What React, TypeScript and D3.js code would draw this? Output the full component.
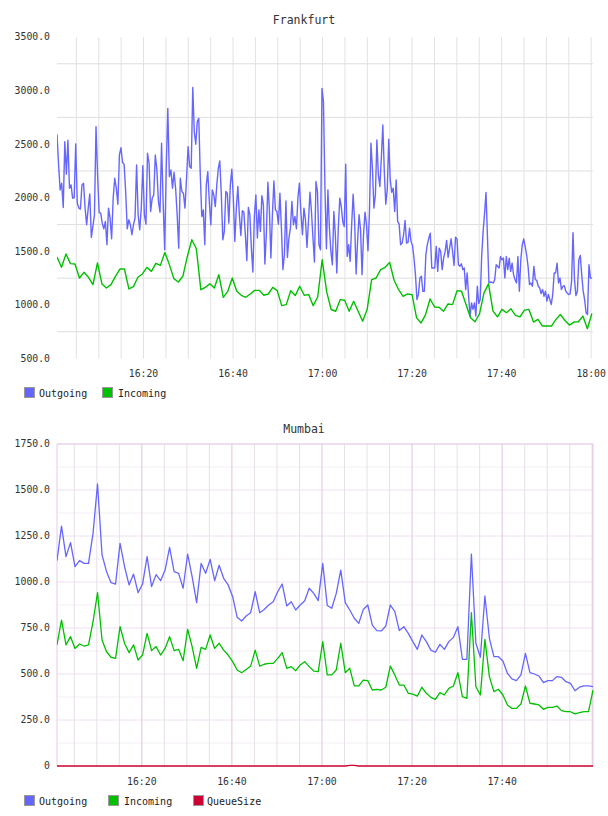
import * as d3 from 'd3';
import React from 'react';

const W = 608;
const H = 816;
const day = '2013-05-14';
const at = (hms: string) => new Date(`${day}T${hms}`);

const blue = '#6666ff';
const green = '#00c000';
const crimson = '#cc0033';
const mono = '"DejaVu Sans Mono", monospace';

// Frankfurt outgoing, roughly every 20 s, in half-hour blocks (block start times below)
const fraOutgoing1 = [
  2592, 2312, 2073, 2136, 1909, 2524, 2220, 2536, 2089, 2120, 1996, 2000, 2502, 1950, 1903, 1894, 2120, 2136, 1903, 1748,
  1903, 2036, 1630, 1732, 1841, 2663, 2213, 1862, 1856, 1763, 1710, 1779, 1562, 1903, 1810, 1617, 1996, 2182, 2089, 1940,
  2399, 2467, 2331, 2312, 2058, 1710, 1794, 1748, 1655, 1748, 1810, 2306, 1841, 1701, 1903, 2300, 1841, 1754, 2415, 2322,
  1872, 1996, 2027, 2399, 2260, 1965, 1866, 2508, 1965, 1515, 2275, 2834, 2198, 2260, 2089, 2238, 2089, 1841, 1530, 2182,
  2058, 2043, 1903, 2182, 2477, 2291, 2275,
];
const fraOutgoing2 = [
  3029, 2617, 2499, 2710, 2741, 2213, 1825, 1887, 1562, 2120, 2244, 1965, 1748, 2073, 2027, 1918, 2120, 2275, 2343, 2027,
  1608, 1686, 2058, 2043, 1763, 2120, 2266, 1996, 1593, 1903, 2105, 1841, 1648, 1878, 1866, 1655, 1413, 1909, 1841, 1530,
  1307, 1825, 2027, 1624, 1887, 1686, 2020, 1934, 1382, 1670, 2145, 1887, 1438, 1841, 2157, 1887, 1872, 1754, 2043, 1717,
  1329, 1468, 1971, 1444, 1624, 1717, 1965, 1748, 1825, 1710, 2002, 2136, 1856, 1655, 1903, 1794, 1537, 1779, 2051, 1872,
  1624, 1400, 2151, 2058, 1562, 1515,
];
const fraOutgoing3 = [
  3020, 2896, 2089, 1524, 2073, 1717, 1499, 1375, 1872, 1655, 1298, 1717, 1996, 1918, 1779, 1732, 2312, 1453, 1562, 1406,
  1748, 2033, 1779, 1288, 1593, 1841, 1701, 1282, 1655, 1866, 1748, 1506, 1872, 2508, 2275, 1903, 2027, 2539, 2213, 2105,
  2368, 2679, 2244, 1940, 2073, 2546, 2167, 2051, 2089, 1872, 2167, 1779, 1754, 1562, 1577, 1655, 1788, 1577, 1584, 1717,
  1593, 1555, 1438, 1282, 1049, 1096, 1251, 1267, 1127, 1127, 1468, 1562, 1624, 1670, 1344, 1344, 1344, 1546, 1313, 1530,
  1499, 1329, 1438, 1499, 1602, 1444, 1530, 1617, 1499, 1369, 1633,
];
const fraOutgoing4 = [
  1616, 1375, 1360, 1384, 1329, 1344, 1143, 1298, 1081, 896, 1019, 958, 1019, 896, 1174, 1013, 1050, 1452, 1684, 1854,
  2049, 1638, 1205, 1214, 1211, 1205, 1236, 1375, 1360, 1344, 1452, 1421, 1437, 1251, 1452, 1329, 1437, 1313, 1390, 1282,
  1236, 1205, 1452, 1128, 1421, 1560, 1616, 1545, 1468, 1360, 1189, 1205, 1174, 1360, 1236, 1230, 1174, 1159, 1106, 1143,
  1081, 1128, 1035, 1097, 1050, 1004, 1097, 1298, 1298, 1390, 1205, 1251, 1143, 1174, 1180, 1128, 1112, 1097, 1103, 1220,
  1675, 1236, 1087, 1128, 1421, 1462, 1282, 1128, 1050, 927, 911, 1375, 1251, 1251,
];
const fraOutgoingStarts = ['16:00:40', '16:31:00', '16:59:52', '17:30:02'];
const fraEnd = '18:00:10';

// Frankfurt incoming, one sample a minute
const fraIncoming = [
  1447, 1351, 1475, 1385, 1382, 1251, 1304, 1258, 1189, 1391, 1196, 1158, 1189, 1267, 1335, 1335, 1149, 1171, 1258, 1289,
  1351, 1313, 1388, 1369, 1490, 1376, 1245, 1214, 1267, 1453,
  1608, 1524, 1142, 1164, 1198, 1158, 1282, 1071, 1127, 1251, 1127, 1090, 1071, 1102, 1136, 1136, 1090, 1102, 1164, 1133,
  993, 1003, 1133, 1087, 1174, 1090, 1096, 993, 1074, 1422,
  1121, 957, 941, 1049, 1043, 941, 1034, 941, 848, 957, 1236, 1251, 1329, 1351, 1397, 1230, 1142, 1080, 1102, 1096,
  879, 832, 910, 1055, 981, 978, 941, 1009, 1003, 1133,
  1128, 1004, 880, 843, 917, 1112, 1196, 942, 889, 958, 927, 964, 902, 889, 951, 958, 840, 865, 803, 803,
  803, 865, 911, 855, 812, 840, 843, 896, 778, 920,
];

// Mumbai: every minute from 16:01:10
const mumOutgoing = [
  1116, 1304, 1138, 1214, 1083, 1116, 1101, 1101, 1264, 1533, 1147, 1056, 996, 989, 1210, 1083, 984, 1043, 942, 989,
  1138, 975, 1040, 1007, 1065, 1188, 1056, 1047, 966, 1152, 1029, 888, 1101, 1047, 1123, 1007, 1091, 1020, 984, 920,
  808, 788, 815, 833, 947, 833, 851, 875, 893, 947, 989, 870, 893, 848, 875, 898, 966,
  938, 899, 1101, 872, 857, 938, 1065, 888, 848, 803, 775, 851, 875, 766, 736, 734, 761, 875, 839, 736,
  757, 721, 676, 634, 712, 676, 630, 618, 661, 634, 676, 699, 757, 580, 580, 1152, 667, 591, 924, 694,
  594, 594, 571, 504, 473, 464, 495, 612, 507, 500, 489, 453, 464, 464, 486, 482, 458, 449, 409, 428,
  435, 435, 431,
];
const mumIncoming = [
  658, 793, 658, 703, 639, 663, 652, 658, 784, 942, 685, 621, 591, 585, 757, 667, 616, 658, 576, 603,
  721, 627, 649, 603, 639, 703, 627, 634, 572, 743, 649, 531, 645, 634, 712, 639, 667, 630, 603, 567,
  522, 507, 525, 543, 630, 543, 553, 558, 558, 585, 616, 531, 540, 518, 549, 567, 540,
  516, 513, 676, 495, 495, 522, 667, 507, 531, 435, 435, 467, 464, 413, 417, 413, 428, 543, 495, 440,
  440, 395, 391, 380, 428, 395, 373, 362, 399, 386, 422, 435, 507, 377, 368, 833, 431, 386, 688, 486,
  404, 417, 386, 332, 313, 313, 337, 435, 341, 337, 332, 308, 319, 319, 326, 301, 295, 295, 283, 290,
  295, 295, 413,
];
const mumQueue = [
  0, 0, 0, 0, 0, 0, 0, 0, 0, 0, 0, 0, 0, 0, 0, 0, 0, 0, 0, 0,
  0, 0, 0, 0, 0, 0, 0, 0, 0, 0, 0, 0, 0, 0, 0, 0, 0, 0, 0, 0,
  0, 0, 0, 0, 0, 0, 0, 0, 0, 0, 0, 0, 0, 0, 0, 0, 0, 0, 0, 0,
  0, 0, 0, 0, 0, 3, 3, 0, 0, 0, 0, 0, 0, 0, 0, 0, 0, 0, 0, 0,
  0, 0, 0, 0, 0, 0, 0, 0, 0, 0, 0, 0, 0, 0, 0, 0, 0, 0, 0, 0,
  0, 0, 0, 0, 0, 0, 0, 0, 0, 0, 0, 0, 0, 0, 0, 0, 0, 0, 0, 0,
];
const mumStart = '16:01:10';
const mumEnd = '18:00:10';

const fraTicks = ['16:20', '16:40', '17:00', '17:20', '17:40', '18:00'];
const mumTicks = ['16:20', '16:40', '17:00', '17:20', '17:40'];
const fraYLabels = [500, 1000, 1500, 2000, 2500, 3000, 3500];
const mumYLabels = [0, 250, 500, 750, 1000, 1250, 1500, 1750];

type Pt = { t: Date; v: number };

// lay each block of samples evenly between its start time and the next block's start
// (the last block ends on its final sample at `end`)
function blocks(chunks: number[][], starts: string[], end: string): Pt[] {
  const out: Pt[] = [];
  chunks.forEach((vals, k) => {
    const t0 = at(starts[k]).getTime();
    const last = k === chunks.length - 1;
    const t1 = last ? at(end).getTime() : at(starts[k + 1]).getTime();
    const step = (t1 - t0) / (last ? vals.length - 1 : vals.length);
    vals.forEach((v, i) => out.push({ t: new Date(t0 + i * step), v }));
  });
  return out;
}

type Line = { name: string; color: string; pts: Pt[]; width: number };
type LegendItem = { name: string; color: string; box: number; text: number };

type PanelProps = {
  id: string;
  title: string;
  titleY: number;
  top: number;
  bottom: number;
  xDomain: [Date, Date];
  yDomain: [number, number];
  yLabels: number[];
  hGrid: { v: number; color: string }[];
  vColor: (d: Date) => string;
  ticks: string[];
  tickY: number;
  lines: Line[];
  legend: LegendItem[];
  legendY: number;
  border?: string;
};

const left = 57;
const right = 593;

function Panel(p: PanelProps) {
  const x = d3.scaleTime().domain(p.xDomain).range([left, right]);
  const y = d3.scaleLinear().domain(p.yDomain).range([p.bottom, p.top]);
  const line = d3
    .line<Pt>()
    .x((d) => x(d.t))
    .y((d) => y(d.v));
  const minutes = d3.timeMinute.every(5)!.range(p.xDomain[0], p.xDomain[1]);
  const fmt = (v: number) => (v === 0 ? '0' : v.toFixed(1));

  return (
    <g>
      <defs>
        <clipPath id={p.id}>
          <rect x={left} y={p.top - 2} width={right - left + 1} height={p.bottom - p.top + 4} />
        </clipPath>
      </defs>
      <text x={304} y={p.titleY} textAnchor="middle" fontFamily={mono} fontSize={11.5} fill="#333">
        {p.title}
      </text>

      {p.hGrid.map((g) => (
        <line key={'h' + g.v} x1={left} x2={right} y1={y(g.v)} y2={y(g.v)} stroke={g.color} strokeWidth={1} />
      ))}
      {minutes.map((m) => (
        <line key={'v' + m.getTime()} x1={x(m)} x2={x(m)} y1={p.top} y2={p.bottom} stroke={p.vColor(m)} strokeWidth={1} />
      ))}
      {p.border && (
        <g stroke={p.border} strokeWidth={1}>
          <line x1={left} x2={left} y1={p.top} y2={p.bottom} />
          <line x1={right} x2={right} y1={p.top} y2={p.bottom} />
          <line x1={left} x2={right} y1={p.top} y2={p.top} />
        </g>
      )}

      {p.yLabels.map((v) => (
        <text key={'y' + v} x={50} y={y(v)} dy="0.35em" textAnchor="end" fontFamily={mono} fontSize={9.8} fill="#333">
          {fmt(v)}
        </text>
      ))}
      {p.ticks.map((s) => (
        <text key={'x' + s} x={x(at(s + ':00'))} y={p.tickY} textAnchor="middle" fontFamily={mono} fontSize={9.8} fill="#333">
          {s}
        </text>
      ))}

      <g clipPath={`url(#${p.id})`}>
        {p.lines.map((l) => (
          <path key={l.name} d={line(l.pts) || ''} fill="none" stroke={l.color} strokeWidth={l.width} strokeLinejoin="round" />
        ))}
      </g>

      {p.legend.map((l) => (
        <g key={'lg' + l.name}>
          <rect x={l.box + 0.5} y={p.legendY - 9.5} width={10} height={10} fill={l.color} stroke="#999" strokeWidth={1} />
          <text x={l.text} y={p.legendY} fontFamily={mono} fontSize={10} fill="#222">
            {l.name}
          </text>
        </g>
      ))}
    </g>
  );
}

const isLabelMinute = (d: Date) => d.getMinutes() % 20 === 0;

export default function App() {
  const fraLines: Line[] = [
    {
      name: 'Outgoing',
      color: blue,
      pts: blocks([fraOutgoing1, fraOutgoing2, fraOutgoing3, fraOutgoing4], fraOutgoingStarts, fraEnd),
      width: 1.4,
    },
    { name: 'Incoming', color: green, pts: blocks([fraIncoming], ['16:00:40'], fraEnd), width: 1.4 },
  ];
  const mumLines: Line[] = [
    { name: 'Outgoing', color: blue, pts: blocks([mumOutgoing], [mumStart], mumEnd), width: 1.3 },
    { name: 'Incoming', color: green, pts: blocks([mumIncoming], [mumStart], mumEnd), width: 1.3 },
    { name: 'QueueSize', color: crimson, pts: blocks([mumQueue], [mumStart], mumEnd), width: 1.3 },
  ];

  const fraGrid = [750, 1250, 1750, 2250, 2750, 3250].map((v) => ({ v, color: '#dedede' }));
  const mumGrid = d3.range(125, 1751, 125).map((v) => ({ v, color: v % 250 === 0 ? '#f0e0f0' : '#f2eef2' }));

  return (
    <svg width={W} height={H} style={{ position: 'absolute', left: 0, top: 0, background: '#fff' }}>
      <Panel
        id="fra"
        title="Frankfurt"
        titleY={24}
        top={37}
        bottom={358.5}
        xDomain={[at('16:00:40'), at('18:00:25')]}
        yDomain={[500, 3500]}
        yLabels={fraYLabels}
        hGrid={fraGrid}
        vColor={() => '#e2e2e2'}
        ticks={fraTicks}
        tickY={377}
        lines={fraLines}
        legend={[
          { name: 'Outgoing', color: blue, box: 24, text: 39 },
          { name: 'Incoming', color: green, box: 102, text: 118 },
        ]}
        legendY={397}
      />
      <Panel
        id="mum"
        title="Mumbai"
        titleY={433}
        top={444}
        bottom={766}
        xDomain={[at(mumStart), at(mumEnd)]}
        yDomain={[0, 1750]}
        yLabels={mumYLabels}
        hGrid={mumGrid}
        vColor={(d) => (isLabelMinute(d) ? '#dcc6dc' : '#e8e0e8')}
        ticks={mumTicks}
        tickY={785}
        lines={mumLines}
        legend={[
          { name: 'Outgoing', color: blue, box: 24, text: 39 },
          { name: 'Incoming', color: green, box: 108, text: 124 },
          { name: 'QueueSize', color: crimson, box: 193, text: 207 },
        ]}
        legendY={805}
        border="#e6cce6"
      />
    </svg>
  );
}
